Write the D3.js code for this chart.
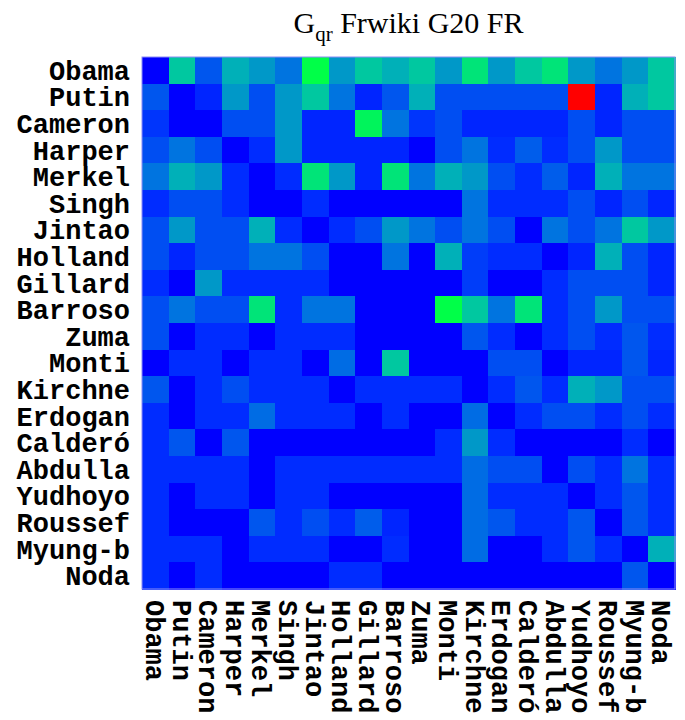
<!DOCTYPE html>
<html>
<head>
<meta charset="utf-8">
<script src="https://cdn.jsdelivr.net/npm/d3@7"></script>
<style>
  html, body { margin: 0; padding: 0; background: #ffffff; }
  svg { display: block; }
</style>
</head>
<body>
<svg id="chart" width="685" height="720"></svg>
<script>
// ---- data ----
const names = ["Obama","Putin","Cameron","Harper","Merkel","Singh","Jintao","Holland","Gillard","Barroso",
               "Zuma","Monti","Kirchne","Erdogan","Calderó","Abdulla","Yudhoyo","Roussef","Myung-b","Noda"];

const rowObama   = [0, .28, .11, .24, .20, .15, .38, .20, .28, .24, .28, .20, .33, .20, .28, .33, .20, .15, .20, .28];
const rowPutin   = [.11, 0, .05, .20, .10, .20, .28, .15, .05, .11, .24, .10, .10, .10, .10, .10, 1.0, .05, .24, .28];
const rowCameron = [.07, 0, 0, .10, .10, .20, .05, .05, .36, .15, .07, .10, .05, .05, .05, .05, .10, .05, .10, .10];
const rowHarper  = [.10, .15, .10, 0, .06, .20, .05, .05, .05, .05, 0, .10, .15, .06, .12, .06, .10, .20, .10, .10];
const rowMerkel  = [.15, .24, .20, .06, 0, .06, .33, .20, .05, .33, .15, .24, .20, .10, .06, .12, .05, .24, .15, .15];
const rowSingh   = [.06, .10, .10, .06, 0, 0, .06, 0, 0, 0, 0, 0, .15, .06, .06, .06, .10, .05, .10, .05];
const rowJintao  = [.10, .20, .10, .10, .24, .06, 0, .06, .10, .20, .15, .10, .15, .10, 0, .15, .10, .15, .28, .20];
const rowHolland = [.10, .05, .10, .10, .15, .15, .10, 0, 0, .15, 0, .24, .08, .06, .06, 0, .05, .24, .10, .05];
const rowGillard = [.06, 0, .20, .06, .06, .06, .06, 0, 0, 0, 0, 0, .08, 0, 0, .06, .10, .10, .10, .05];
const rowBarroso = [.10, .15, .10, .10, .33, .06, .15, .15, 0, 0, 0, .38, .28, .15, .33, .06, .10, .20, .10, .10];
const rowZuma    = [.10, 0, .06, .06, 0, .06, .06, .06, 0, 0, 0, 0, .11, .06, 0, .06, .10, .06, .11, .06];
const rowMonti   = [0, .06, .06, 0, .06, .06, 0, .14, 0, .28, 0, 0, 0, .10, .10, 0, .05, .05, .11, .05];
const rowKirchne = [.11, 0, .06, .10, .06, .06, .06, 0, .06, .06, .06, .06, 0, .06, .11, .06, .24, .20, .10, .10];
const rowErdogan = [.06, 0, .06, .06, .14, .06, .06, .06, 0, .06, 0, 0, .14, 0, .06, .10, .10, .06, .10, .06];
const rowCaldero = [.06, .11, 0, .11, 0, 0, 0, 0, 0, 0, 0, .06, .20, .06, 0, 0, 0, 0, .06, 0];
const rowAbdulla = [.06, .06, .06, .06, 0, .06, .06, .06, .06, .06, .06, .06, .14, .10, .10, 0, .10, .06, .15, .06];
const rowYudhoyo = [.06, 0, .06, .06, 0, .06, .06, 0, 0, 0, 0, 0, .14, .06, .06, .06, 0, .06, .11, .06];
const rowRoussef = [.06, 0, 0, 0, .11, .06, .10, .06, .12, .05, 0, 0, .14, .11, .06, .06, .11, 0, .11, .06];
const rowMyung   = [.06, .06, .06, 0, .06, .06, .06, 0, 0, .06, 0, 0, .14, 0, 0, .06, .11, .06, 0, .24];
const rowNoda    = [.06, 0, .06, 0, 0, 0, 0, .06, .06, 0, 0, 0, 0, 0, 0, 0, 0, 0, .11, 0];

const matrix = [rowObama, rowPutin, rowCameron, rowHarper, rowMerkel, rowSingh, rowJintao, rowHolland,
                rowGillard, rowBarroso, rowZuma, rowMonti, rowKirchne, rowErdogan, rowCaldero, rowAbdulla,
                rowYudhoyo, rowRoussef, rowMyung, rowNoda];

// ---- layout ----
const svg = d3.select("#chart");
const plotLeft = 142, plotRight = 675, plotTop = 57, plotBottom = 589;

const x = d3.scaleBand().domain(names).range([plotLeft, plotRight]).padding(0);
const y = d3.scaleBand().domain(names).range([plotTop, plotBottom]).padding(0);

const color = d3.scaleLinear()
  .domain([0, 0.06, 0.10, 0.15, 0.20, 0.24, 0.28, 0.33, 0.38, 1.0])
  .range(["#0000ff", "#002cff", "#004ef2", "#0074e0", "#0098c8", "#00b0b8", "#00c8a0", "#00e478", "#00ff48", "#ff0000"])
  .clamp(true);

const cells = [];
matrix.forEach((row, i) => row.forEach((v, j) => cells.push({r: names[i], c: names[j], v})));

svg.append("g").selectAll("rect")
  .data(cells)
  .join("rect")
  .attr("x", d => x(d.c))
  .attr("y", d => y(d.r))
  .attr("width", x.bandwidth() + 0.5)
  .attr("height", y.bandwidth() + 0.5)
  .attr("fill", d => color(d.v))
  .attr("shape-rendering", "crispEdges");

// frame
svg.append("rect")
  .attr("x", plotLeft).attr("y", plotTop)
  .attr("width", plotRight - plotLeft).attr("height", plotBottom - plotTop)
  .attr("fill", "none").attr("stroke", "#8c8cf5").attr("stroke-width", 1);

// row labels
const labelFont = "'Courier New', 'Liberation Mono', monospace";
svg.append("g").selectAll("text")
  .data(names)
  .join("text")
  .attr("x", plotLeft - 12)
  .attr("y", d => y(d) + y.bandwidth() / 2)
  .attr("dy", "0.35em")
  .attr("text-anchor", "end")
  .style("font-family", labelFont)
  .style("font-weight", "bold")
  .style("font-size", "27px")
  .attr("fill", "#000")
  .text(d => d);

// column labels (rotated, reading downward)
svg.append("g").selectAll("text")
  .data(names)
  .join("text")
  .attr("transform", d => `translate(${x(d) + x.bandwidth() / 2},${plotBottom + 11}) rotate(90)`)
  .attr("dy", "0.35em")
  .attr("text-anchor", "start")
  .style("font-family", labelFont)
  .style("font-weight", "bold")
  .style("font-size", "27px")
  .attr("fill", "#000")
  .text(d => d);

// title
const title = svg.append("text")
  .attr("x", (plotLeft + plotRight) / 2)
  .attr("y", 33)
  .attr("text-anchor", "middle")
  .style("font-family", "'Liberation Serif', 'Times New Roman', serif")
  .style("font-size", "30px")
  .attr("fill", "#000");
title.append("tspan").text("G");
title.append("tspan").attr("dy", 8).style("font-size", "21px").text("qr");
title.append("tspan").attr("dy", -8).text(" Frwiki G20 FR");
</script>
</body>
</html>
